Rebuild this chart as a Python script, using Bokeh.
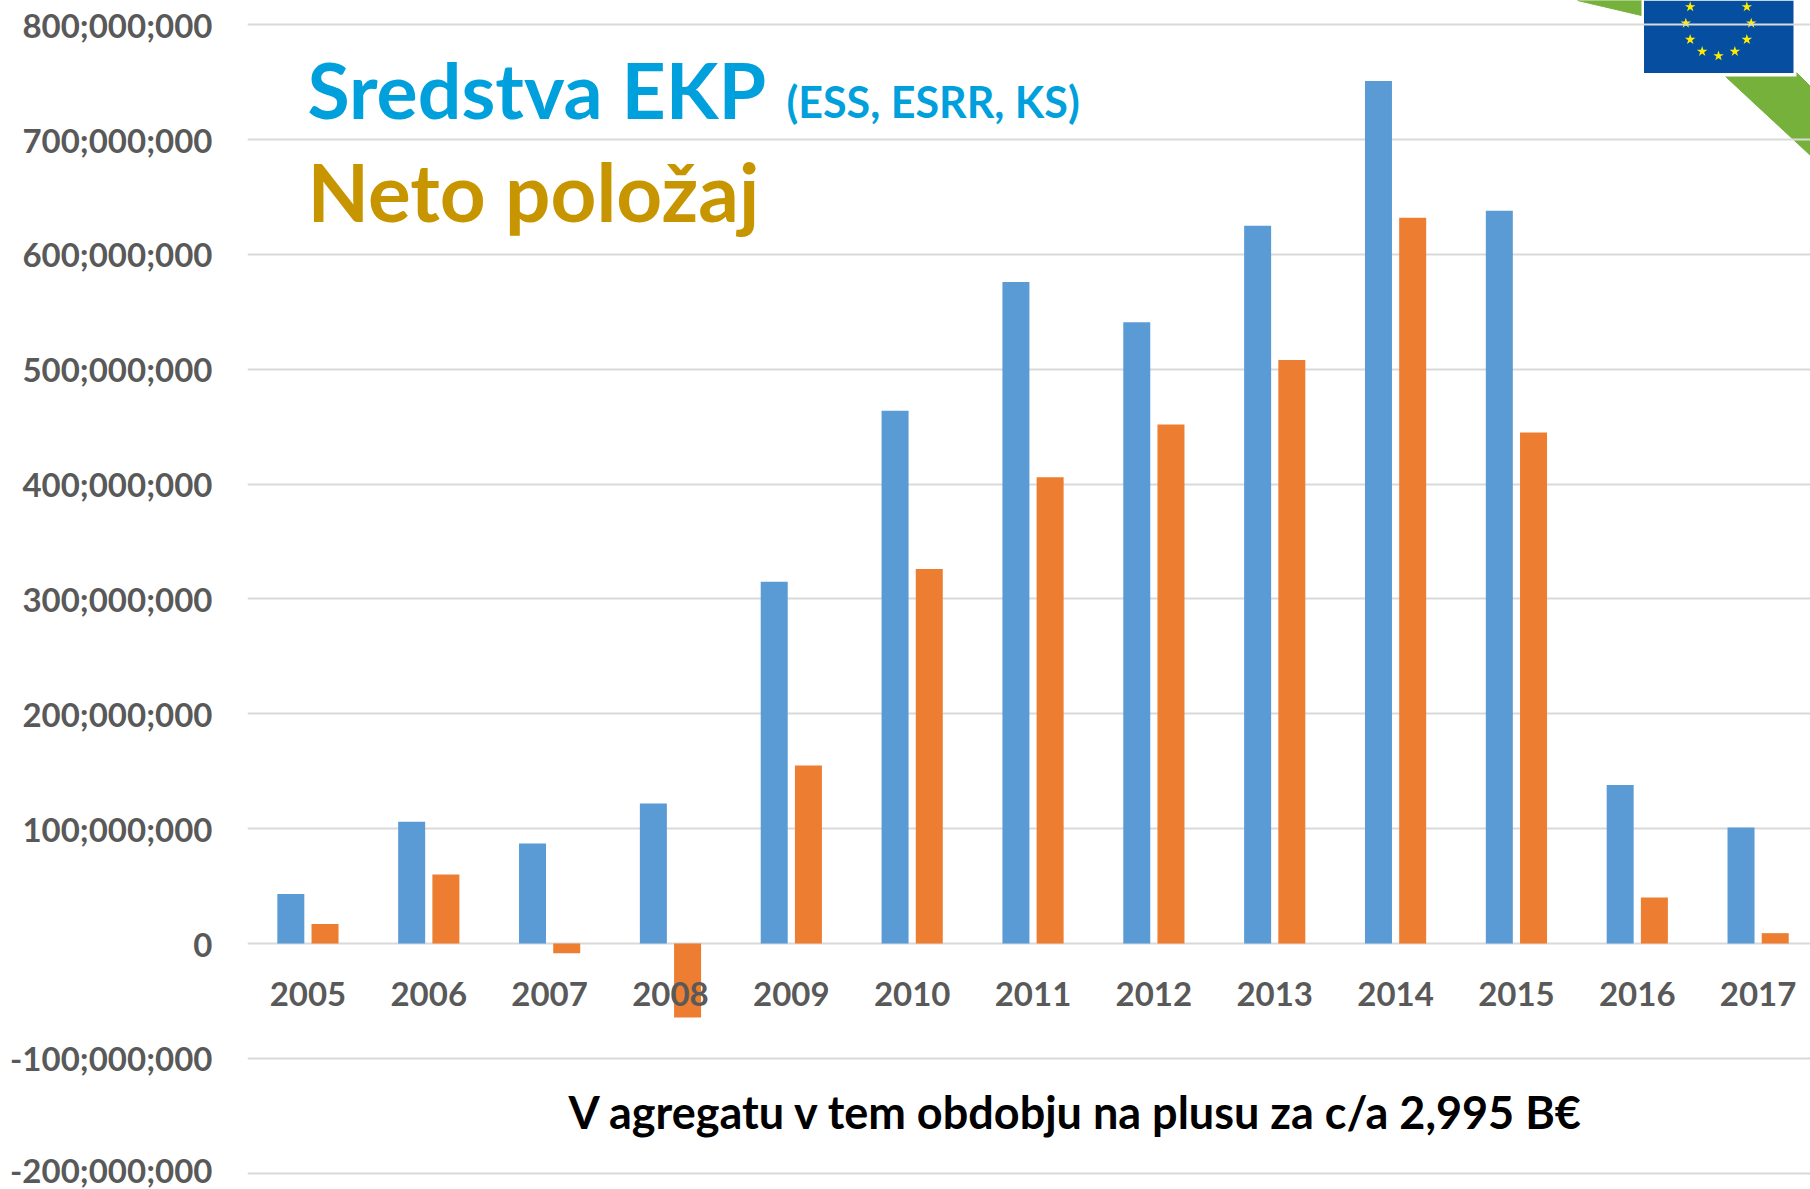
import math
from bokeh.plotting import figure
from bokeh.models import Range1d, FixedTicker
from bokeh.core.properties import value
from bokeh.embed import file_html
from bokeh.resources import INLINE

# ---- data ----
years = [2005, 2006, 2007, 2008, 2009, 2010, 2011, 2012, 2013, 2014, 2015, 2016, 2017]
sredstva = [43e6, 106e6, 87e6, 122e6, 315e6, 464e6, 576e6, 541e6, 625e6, 751e6, 638e6, 138e6, 101e6]
neto = [17e6, 60e6, -8.5e6, -64.5e6, 155e6, 326e6, 406e6, 452e6, 508e6, 632e6, 445e6, 40e6, 9e6]
y_ticks = [-200e6, -100e6, 0, 100e6, 200e6, 300e6, 400e6, 500e6, 600e6, 700e6, 800e6]
y_labels = ["-200;000;000", "-100;000;000", "0", "100;000;000", "200;000;000", "300;000;000",
            "400;000;000", "500;000;000", "600;000;000", "700;000;000", "800;000;000"]

# ---- layout (page pixels) ----
W, H = 1810, 1189
LEFT = 247
ZERO_Y, PX_PER_UNIT = 943.0, 1.1484e-6
CAT_W = 120.85
FONT = value("Lato")
GREY = "#595959"

x0 = 2004.5
x1 = x0 + (W - LEFT) / CAT_W
y_top = ZERO_Y / PX_PER_UNIT
y_bot = (ZERO_Y - H) / PX_PER_UNIT

p = figure(width=W, height=H, output_backend="svg", toolbar_location=None,
           x_range=Range1d(x0, x1), y_range=Range1d(y_bot, y_top),
           min_border_left=LEFT, min_border_right=0, min_border_top=0, min_border_bottom=0,
           outline_line_color=None, background_fill_color="white", border_fill_color="white")
# page-pixel overlay ranges for the decoration and free texts
p.extra_x_ranges = {"px": Range1d(LEFT, W)}
p.extra_y_ranges = {"py": Range1d(H, 0)}

# decorations under the grid
p.patch([1577, 1641, 1641], [0, 15, 0], color="#76B13C", level="image", x_range_name="px", y_range_name="py")
p.patch([1725, 1796, 1810, 1810], [76, 72, 86, 155], color="#76B13C", level="image", x_range_name="px", y_range_name="py")
p.quad(left=[1641], right=[1796], top=[0], bottom=[76], color="white", line_color=None, level="image",
       x_range_name="px", y_range_name="py")
p.quad(left=[1643.5], right=[1793], top=[0], bottom=[72.5], color="#064EA0", line_color=None, level="image",
       x_range_name="px", y_range_name="py")
sx, sy = [], []
for k in range(12):
    a = math.radians(30 * k)
    sx.append(1718 + 32.7 * math.sin(a))
    sy.append(22.7 + 32.7 * math.cos(a))
p.scatter(sx, sy, marker="star", size=11, color="#FFED00", line_color=None, level="image",
          x_range_name="px", y_range_name="py")

# bars
bw = 27.0 / CAT_W
off = 17.1 / CAT_W
p.vbar(x=[y - off for y in years], top=sredstva, bottom=0, width=bw, color="#5B9BD5", line_color=None)
p.vbar(x=[y + off for y in years], top=neto, bottom=0, width=bw, color="#ED7D31", line_color=None)

# axes
p.xgrid.visible = False
p.ygrid.grid_line_color = "#D9D9D9"
p.ygrid.grid_line_width = 2
p.yaxis.ticker = FixedTicker(ticks=y_ticks)
p.yaxis.major_label_overrides = dict(zip(y_ticks, y_labels))
p.yaxis.axis_line_color = None
p.yaxis.major_tick_line_color = None
p.yaxis.minor_tick_line_color = None
p.yaxis.major_label_standoff = 29
p.yaxis.major_label_text_font = "Lato"
p.yaxis.major_label_text_font_style = "bold"
p.yaxis.major_label_text_font_size = "33px"
p.yaxis.major_label_text_color = GREY

p.xaxis.ticker = FixedTicker(ticks=years)
p.xaxis.fixed_location = 0
p.xaxis.axis_line_color = None
p.xaxis.major_tick_line_color = None
p.xaxis.minor_tick_line_color = None
p.xaxis.major_label_standoff = 32
p.xaxis.formatter.use_scientific = False
p.xaxis.major_label_text_font = "Lato"
p.xaxis.major_label_text_font_style = "bold"
p.xaxis.major_label_text_font_size = "33px"
p.xaxis.major_label_text_color = GREY

# free texts
def txt(x, y, s, size, color):
    p.text(x=[x], y=[y], text=[s], text_font=FONT, text_font_style="bold", text_font_size=size,
           text_color=color, text_align="left", text_baseline="alphabetic",
           x_range_name="px", y_range_name="py")

txt(307, 88, "Sredstva EKP", "77px", "#00A0DC")
txt(786, 101, "(ESS, ESRR, KS)", "43px", "#00A0DC")
txt(307, 190, "Neto položaj", "80px", "#C69500")
txt(568, 1111, "V agregatu v tem obdobju na plusu za c/a 2,995 B€", "45px", "#000000")

open("out.html", "w").write(file_html(p, INLINE))
